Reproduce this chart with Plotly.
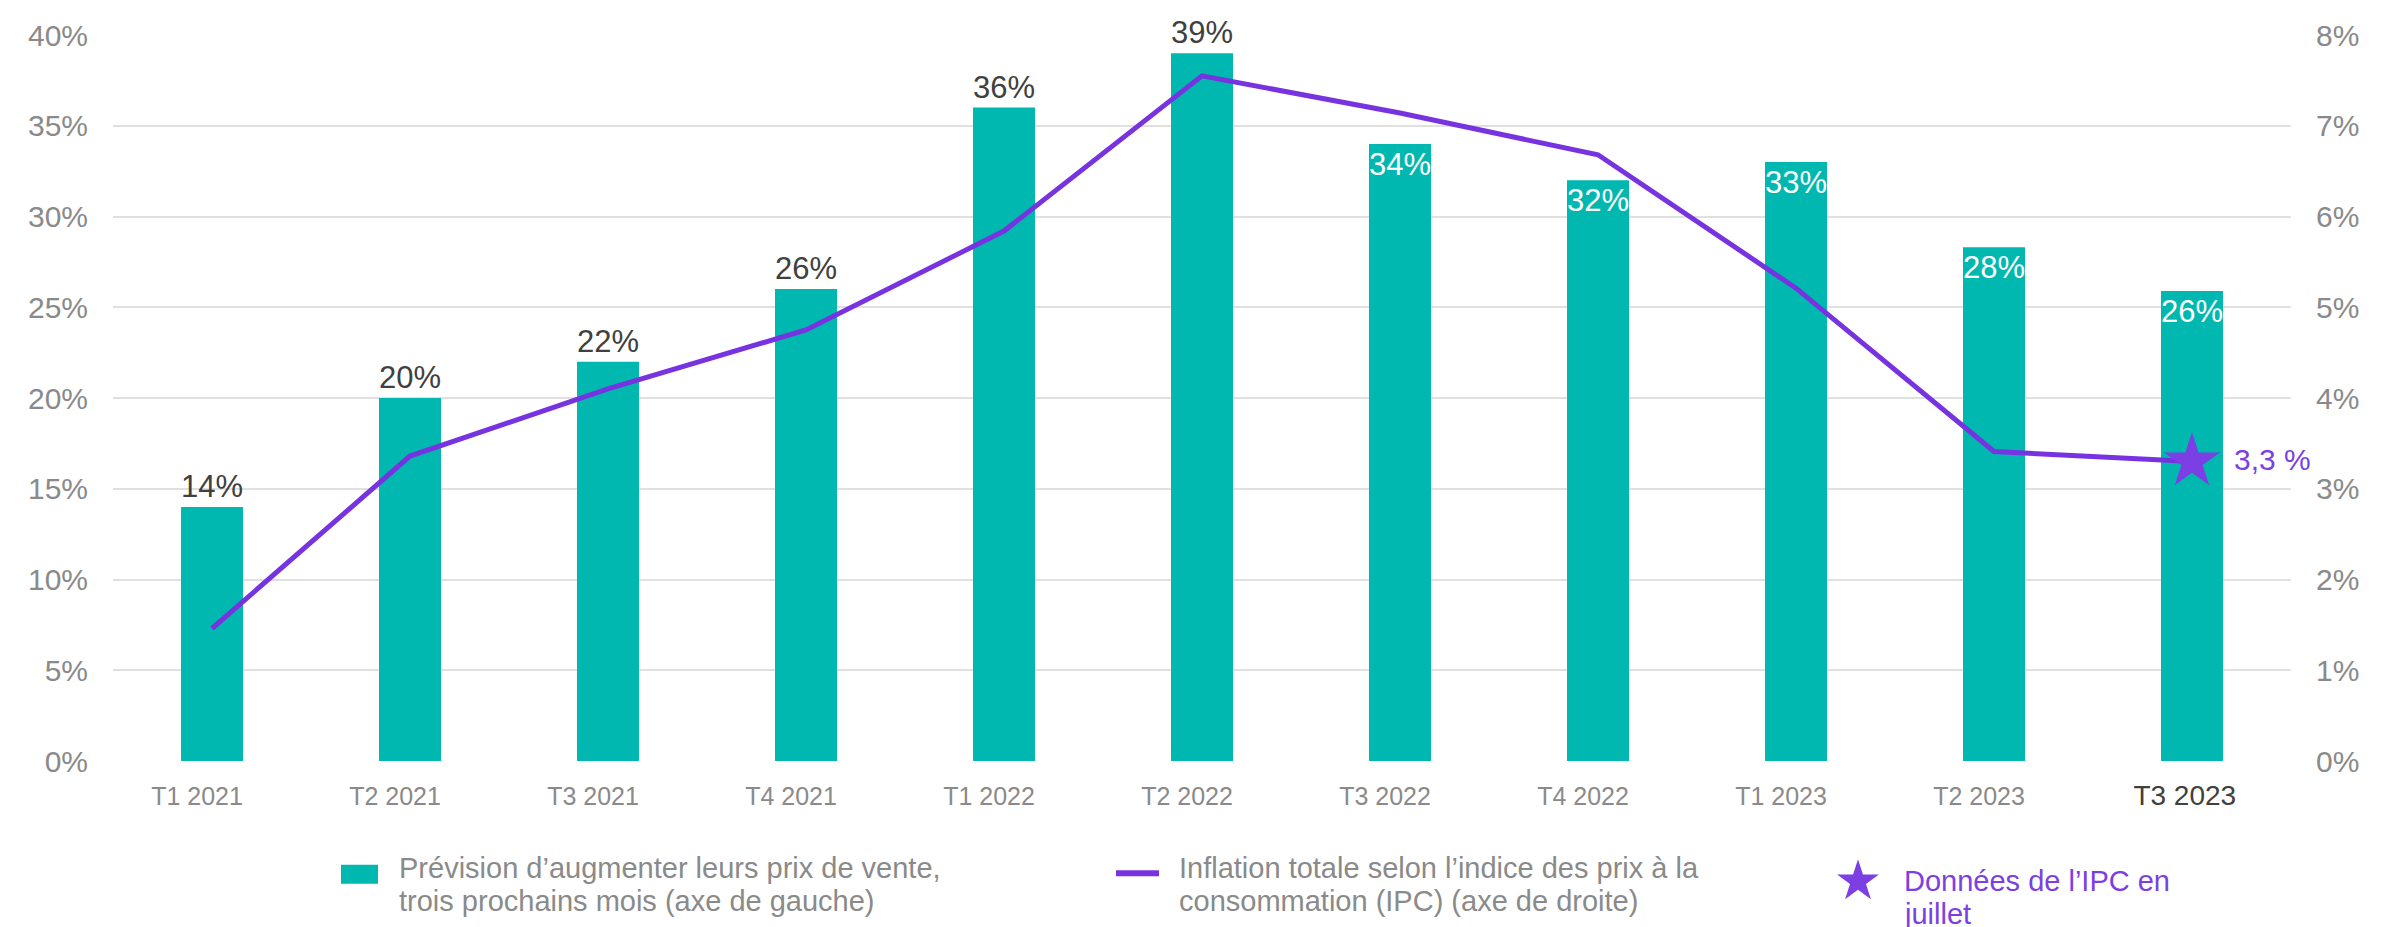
import math
import plotly.graph_objects as go

categories = ["T1 2021", "T2 2021", "T3 2021", "T4 2021", "T1 2022", "T2 2022",
              "T3 2022", "T4 2022", "T1 2023", "T2 2023", "T3 2023"]
price_expect = [14, 20, 22, 26, 36, 39, 34, 32, 33, 28.3, 25.9]
cpi = [1.46, 3.36, 4.1, 4.75, 5.84, 7.55, 7.14, 6.68, 5.21, 3.41, 3.3]
label_positions = ["outside"] * 6 + ["inside"] * 5
left_ticks = [0, 5, 10, 15, 20, 25, 30, 35, 40]
right_ticks = [0, 1, 2, 3, 4, 5, 6, 7, 8]
july_cpi_label = "3,3 %"
legend_labels = [
    "Prévision d’augmenter leurs prix de vente,<br>trois prochains mois (axe de gauche)",
    "Inflation totale selon l’indice des prix à la<br>consommation (IPC) (axe de droite)",
    "Données de l’IPC en<br>juillet",
]

TEAL = "#00B8B0"
PURPLE = "#7733E0"
STAR = "#7B3FE4"
GRAY = "#8A8A8A"
DARK = "#404040"
FONT = "Liberation Sans, Arial, sans-serif"

W, H = 2382, 927
PL, PR, PT, PB = 105, 2283, 27, 752.7


def px(x):
    return (x - PL) / (PR - PL)


def py(y):
    return (PB - y) / (PB - PT)


tick_text_x = [c if i < len(categories) - 1 else
               f'<span style="color:{DARK};font-size:28px">\u00a0\u00a0{c}</span>'
               for i, c in enumerate(categories)]

fig = go.Figure()
fig.add_trace(go.Bar(
    x=categories, y=price_expect,
    text=[f"{round(v)}%" for v in price_expect],
    textposition=label_positions,
    textangle=0,
    insidetextanchor="end",
    insidetextfont=dict(color="white", size=31, family=FONT),
    outsidetextfont=dict(color=DARK, size=31, family=FONT),
    constraintext="none",
    cliponaxis=False,
    marker=dict(color=TEAL, line=dict(width=0)),
    name=legend_labels[0],
    showlegend=False,
    hoverinfo="skip",
))
fig.add_trace(go.Scatter(
    x=categories, y=cpi, yaxis="y2", mode="lines",
    line=dict(color=PURPLE, width=5),
    name=legend_labels[1],
    showlegend=False,
    hoverinfo="skip",
))
fig.add_trace(go.Scatter(
    x=[categories[-1]], y=[cpi[-1]], yaxis="y2", mode="markers",
    marker=dict(symbol="star", size=42, color=STAR, line=dict(width=0)),
    name=legend_labels[2],
    showlegend=False,
    cliponaxis=False,
    hoverinfo="skip",
))

fig.add_annotation(
    x=categories[-1], y=cpi[-1], xref="x", yref="y2",
    text=july_cpi_label, showarrow=False, xanchor="left", yanchor="middle",
    xshift=40, yshift=2, font=dict(color=STAR, size=30, family=FONT),
)


# ---- custom legend (symbols as pixel-sized shapes, labels as text) ----
def star_path(R, ratio=0.382):
    pts = []
    for k in range(10):
        r = R if k % 2 == 0 else R * ratio
        a = math.radians(36 * k)
        pts.append((r * math.sin(a), r * math.cos(a)))
    return "M" + "L".join(f"{x:.2f},{y:.2f}" for x, y in pts) + "Z"


legend_shapes = [
    dict(type="rect", xref="paper", yref="paper",
         xsizemode="pixel", ysizemode="pixel",
         xanchor=px(351.5), yanchor=py(866),
         x0=-18.5, x1=18.5, y0=-9.5, y1=9.5,
         fillcolor=TEAL, line=dict(width=0)),
    dict(type="line", xref="paper", yref="paper",
         xsizemode="pixel", ysizemode="pixel",
         xanchor=px(1129.5), yanchor=py(865),
         x0=-21.5, x1=21.5, y0=0, y1=0,
         line=dict(color=PURPLE, width=6)),
    dict(type="path", xref="paper", yref="paper",
         xsizemode="pixel", ysizemode="pixel",
         xanchor=px(1850), yanchor=py(873),
         path=star_path(22),
         fillcolor=STAR, line=dict(width=0)),
]
# (left x, first line centre y, colour) for each legend entry
legend_text_pos = [(389, 860, GRAY), (1169, 860, GRAY), (1894, 873, STAR)]
LINE_STEP = 33
for label, (lx, ly, col) in zip(legend_labels, legend_text_pos):
    for j, part in enumerate(label.split("<br>")):
        fig.add_annotation(
            x=px(lx), y=py(ly + j * LINE_STEP), xref="paper", yref="paper",
            text=part, showarrow=False, xanchor="left", yanchor="middle",
            align="left", font=dict(color=col, size=29, family=FONT),
        )

fig.update_layout(
    width=W, height=H,
    margin=dict(l=PL, r=W - PR, t=PT, b=H - PB, autoexpand=False),
    paper_bgcolor="white", plot_bgcolor="white",
    font=dict(family=FONT, color=GRAY),
    bargap=0.687,
    showlegend=False,
    shapes=legend_shapes,
    xaxis=dict(
        type="category", range=[-0.5, len(categories) - 0.5],
        tickmode="array", tickvals=categories, ticktext=tick_text_x,
        showgrid=False, showline=False, zeroline=False, ticks="",
        tickfont=dict(size=25, color=GRAY, family=FONT),
        ticklabelstandoff=18, ticklabelshift=-15,
    ),
    yaxis=dict(
        range=[0, 40], tickmode="array", tickvals=left_ticks,
        ticktext=[f"{v}%" for v in left_ticks],
        showgrid=True, gridcolor="#E0E0E0", gridwidth=2,
        zeroline=False, showline=False, ticks="",
        tickfont=dict(size=30, color=GRAY, family=FONT),
        ticklabelstandoff=24,
    ),
    yaxis2=dict(
        range=[0, 8], overlaying="y", side="right",
        tickmode="array", tickvals=right_ticks,
        ticktext=[f"{v}%" for v in right_ticks],
        showgrid=False, zeroline=False, showline=False, ticks="",
        tickfont=dict(size=30, color=GRAY, family=FONT),
        ticklabelstandoff=24,
    ),
)

fig.write_html("out.html")
